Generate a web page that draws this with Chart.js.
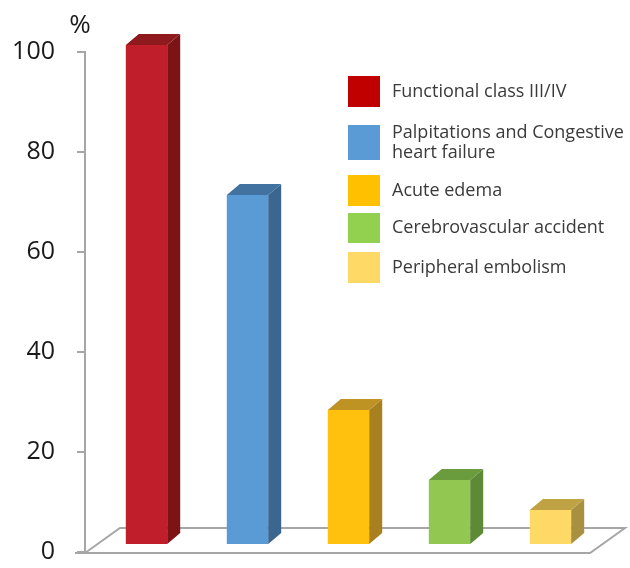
<!DOCTYPE html>
<html>
<head>
<meta charset="utf-8">
<script src="https://cdn.jsdelivr.net/npm/chart.js@4/dist/chart.umd.min.js"></script>
<style>
  html, body { margin: 0; padding: 0; background: #ffffff; }
  #wrap { position: relative; width: 630px; height: 568px; }
</style>
</head>
<body>
<div id="wrap"><canvas id="c" width="630" height="568"></canvas></div>
<script>
// Categories (legend entries) and percentages
const categories = [
  'Functional class III/IV',
  ['Palpitations and Congestive', 'heart failure'],
  'Acute edema',
  'Cerebrovascular accident',
  'Peripheral embolism'
];
const values = [100, 70, 27, 13, 7];
const yTicks = [0, 20, 40, 60, 80, 100];
const unitLabel = '%';

// Face colours for the 3D columns
const frontColors  = ['#BF1E2A', '#5B9BD5', '#FFC00E', '#92C851', '#FFD966'];
const sideColors   = ['#7C1416', '#3B6690', '#A8801F', '#5E8A37', '#A99040'];
const topColors    = ['#8E1A1D', '#4272A0', '#BE9223', '#6A9B3C', '#BFA244'];
const legendColors = ['#C00000', '#5B9BD5', '#FFC000', '#92D050', '#FFD966'];

// 3D projection offsets
const BAR_DEPTH = { dx: 13, dy: -11 };
const BAR_SHIFT = { dx: 11, dy: -7 };
const FLOOR_DEPTH = { dx: 35, dy: -25 };

const floorAndDepth = {
  id: 'floorAndDepth',
  beforeDatasetsDraw(chart) {
    const { ctx, chartArea, scales } = chart;
    const y0 = scales.y.getPixelForValue(0) + 1;
    const l = chartArea.left, r = chartArea.right;
    ctx.save();
    ctx.strokeStyle = '#A6A6A6';
    ctx.lineWidth = 2;
    ctx.lineJoin = 'miter';
    ctx.beginPath();
    ctx.moveTo(l - 10, y0);
    ctx.lineTo(r, y0);
    ctx.lineTo(r + FLOOR_DEPTH.dx, y0 + FLOOR_DEPTH.dy);
    ctx.lineTo(l + FLOOR_DEPTH.dx, y0 + FLOOR_DEPTH.dy);
    ctx.lineTo(l, y0);
    ctx.stroke();
    ctx.restore();
    // columns stand inside the floor, a little behind its front edge
    ctx.save();
    ctx.translate(BAR_SHIFT.dx, BAR_SHIFT.dy);
  },
  afterDatasetsDraw(chart) {
    const { ctx } = chart;
    const meta = chart.getDatasetMeta(0);
    const { dx, dy } = BAR_DEPTH;
    meta.data.forEach((bar, i) => {
      const p = bar.getProps(['x', 'y', 'base', 'width'], true);
      const left = p.x - p.width / 2, right = p.x + p.width / 2;
      // right side face
      ctx.fillStyle = sideColors[i];
      ctx.beginPath();
      ctx.moveTo(right, p.y);
      ctx.lineTo(right + dx, p.y + dy);
      ctx.lineTo(right + dx, p.base + dy);
      ctx.lineTo(right, p.base);
      ctx.closePath();
      ctx.fill();
      // top face
      ctx.fillStyle = topColors[i];
      ctx.beginPath();
      ctx.moveTo(left, p.y);
      ctx.lineTo(left + dx, p.y + dy);
      ctx.lineTo(right + dx, p.y + dy);
      ctx.lineTo(right, p.y);
      ctx.closePath();
      ctx.fill();
    });
    ctx.restore();
  }
};

// Legend rows: square top, square height
const legendRows = [
  { top: 76, h: 31 },
  { top: 125, h: 35 },
  { top: 175, h: 31 },
  { top: 213, h: 30 },
  { top: 252, h: 31 }
];

const sideLegend = {
  id: 'sideLegend',
  afterDraw(chart) {
    const { ctx, chartArea, scales } = chart;
    ctx.save();
    // unit label above the value axis
    ctx.fillStyle = '#1a1a1a';
    ctx.font = '26px "Open Sans"';
    ctx.textAlign = 'center';
    ctx.textBaseline = 'alphabetic';
    ctx.fillText(unitLabel, chartArea.left - 5, scales.y.top - 19);

    ctx.font = '18px "Open Sans"';
    ctx.textAlign = 'left';
    ctx.textBaseline = 'middle';
    const sqX = 348, sqW = 32, textX = 392, lineH = 20;
    categories.forEach((cat, i) => {
      const row = legendRows[i];
      ctx.fillStyle = legendColors[i];
      ctx.fillRect(sqX, row.top, sqW, row.h);
      const lines = Array.isArray(cat) ? cat : [cat];
      const mid = row.top + row.h / 2;
      const start = mid - (lines.length - 1) * lineH / 2;
      ctx.fillStyle = '#3a3a3a';
      lines.forEach((t, k) => ctx.fillText(t, textX, start + k * lineH));
    });
    ctx.restore();
  }
};

new Chart(document.getElementById('c'), {
  type: 'bar',
  data: {
    labels: categories,
    datasets: [{
      data: values,
      backgroundColor: frontColors,
      borderWidth: 0,
      categoryPercentage: 1,
      barPercentage: 0.41,
      clip: false
    }]
  },
  options: {
    responsive: false,
    animation: false,
    devicePixelRatio: 1,
    layout: { padding: { top: 52, bottom: 16, left: 0, right: 40 } },
    plugins: { legend: { display: false }, tooltip: { enabled: false } },
    scales: {
      x: { display: false },
      y: {
        min: 0,
        max: 100,
        afterBuildTicks(scale) { scale.ticks = yTicks.map(v => ({ value: v })); },
        afterFit(scale) {
          scale.width = 85;
          scale.paddingTop = 0;
          scale.paddingBottom = 0;
        },
        ticks: {
          padding: 22,
          color: '#1a1a1a',
          font: { family: '"Open Sans"', size: 25 }
        },
        grid: {
          drawOnChartArea: false,
          drawTicks: true,
          tickLength: 8,
          color: '#A6A6A6',
          lineWidth: 2
        },
        border: { display: true, color: '#A6A6A6', width: 2 }
      }
    }
  },
  plugins: [floorAndDepth, sideLegend]
});
</script>
</body>
</html>
